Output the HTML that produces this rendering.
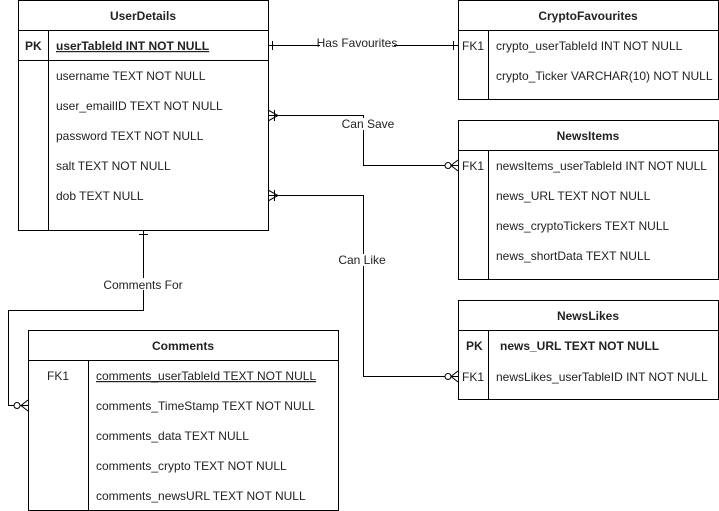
<!DOCTYPE html>
<html><head><style>body{margin:0;background:#fff}svg{display:block}text{font-family:"Liberation Sans",Arial,sans-serif;font-size:12px;fill:#222}.b{font-weight:bold}</style></head><body>
<svg width="719" height="511" viewBox="0 0 719 511" xmlns="http://www.w3.org/2000/svg">
<g fill="none" stroke="#000" stroke-width="1">
<!-- UserDetails -->
<rect x="18.5" y="0.5" width="250" height="230"/>
<line x1="18" y1="30.5" x2="268" y2="30.5"/><line x1="18" y1="60.5" x2="268" y2="60.5"/>
<line x1="48.5" y1="30" x2="48.5" y2="230"/>
<!-- CryptoFavourites -->
<rect x="458.5" y="0.5" width="260" height="99"/>
<line x1="458" y1="30.5" x2="718" y2="30.5"/><line x1="488.5" y1="30" x2="488.5" y2="100"/>
<!-- NewsItems -->
<rect x="458.5" y="120.5" width="260" height="159"/>
<line x1="458" y1="150.5" x2="718" y2="150.5"/><line x1="488.5" y1="150" x2="488.5" y2="280"/>
<!-- NewsLikes -->
<rect x="458.5" y="300.5" width="260" height="99"/>
<line x1="458" y1="330.5" x2="718" y2="330.5"/><line x1="488.5" y1="330" x2="488.5" y2="400"/>
<!-- Comments -->
<rect x="28.5" y="330.5" width="310" height="180"/>
<line x1="28" y1="360.5" x2="338" y2="360.5"/><line x1="88.5" y1="360" x2="88.5" y2="510"/>
<!-- connectors -->
<polyline points="268,45.5 458,45.5"/>
<line x1="272.5" y1="41" x2="272.5" y2="50"/><line x1="453.5" y1="41" x2="453.5" y2="50"/>
<polyline points="268,115.5 363.5,115.5 363.5,165.5 458,165.5"/>
<path d="M268 110 L278 115.5 L268 121 M274.5 110 V121"/>
<circle cx="448" cy="165.5" r="3" fill="#fff"/><path d="M458 160 L451 165.5 L458 171"/>
<polyline points="268,195.5 363.5,195.5 363.5,376.5 458,376.5"/>
<path d="M268 190 L278 195.5 L268 201 M274.5 190 V201"/>
<circle cx="448" cy="376.5" r="3" fill="#fff"/><path d="M458 371 L451 376.5 L458 382"/>
<polyline points="143.5,230 143.5,310.5 8.5,310.5 8.5,405.5 28,405.5"/>
<line x1="139" y1="234.5" x2="148" y2="234.5"/>
<circle cx="17" cy="405.5" r="3" fill="#fff"/><path d="M28 400 L21 405.5 L28 411"/>
</g>
<rect x="320" y="38" width="74" height="12" fill="#fff"/>
<text x="357" y="47" text-anchor="middle" font-size="11">Has Favourites</text>
<rect x="340" y="118" width="56" height="12" fill="#fff"/>
<text x="368" y="128" text-anchor="middle" font-size="11">Can Save</text>
<rect x="338" y="254" width="48" height="12" fill="#fff"/>
<text x="362" y="264" text-anchor="middle" font-size="11">Can Like</text>
<rect x="104" y="278" width="80" height="12" fill="#fff"/>
<text x="143" y="289" text-anchor="middle" font-size="11">Comments For</text>

<text x="143" y="20" text-anchor="middle" class="b">UserDetails</text>
<text x="25" y="50" class="b">PK</text>
<text x="56" y="50" class="b" text-decoration="underline">userTableId INT NOT NULL</text>
<text x="56" y="80">username TEXT NOT NULL</text>
<text x="56" y="110">user_emailID TEXT NOT NULL</text>
<text x="56" y="140">password TEXT NOT NULL</text>
<text x="56" y="170">salt TEXT NOT NULL</text>
<text x="56" y="200">dob TEXT NULL</text>

<text x="588" y="20" text-anchor="middle" class="b">CryptoFavourites</text>
<text x="462" y="50">FK1</text>
<text x="496" y="50">crypto_userTableId INT NOT NULL</text>
<text x="496" y="80">crypto_Ticker VARCHAR(10) NOT NULL</text>

<text x="588" y="140" text-anchor="middle" class="b">NewsItems</text>
<text x="462" y="170">FK1</text>
<text x="496" y="170">newsItems_userTableId INT NOT NULL</text>
<text x="496" y="200">news_URL TEXT NOT NULL</text>
<text x="496" y="230">news_cryptoTickers TEXT NULL</text>
<text x="496" y="260">news_shortData TEXT NULL</text>

<text x="588" y="320" text-anchor="middle" class="b">NewsLikes</text>
<text x="466" y="350" class="b">PK</text>
<text x="500" y="350" class="b">news_URL TEXT NOT NULL</text>
<text x="462" y="381">FK1</text>
<text x="496" y="381">newsLikes_userTableID INT NOT NULL</text>

<text x="183" y="350" text-anchor="middle" class="b">Comments</text>
<text x="47" y="380">FK1</text>
<text x="96" y="380" text-decoration="underline">comments_userTableId TEXT NOT NULL</text>
<text x="96" y="410">comments_TimeStamp TEXT NOT NULL</text>
<text x="96" y="440">comments_data TEXT NULL</text>
<text x="96" y="470">comments_crypto TEXT NOT NULL</text>
<text x="96" y="500">comments_newsURL TEXT NOT NULL</text>
</svg>
</body></html>
